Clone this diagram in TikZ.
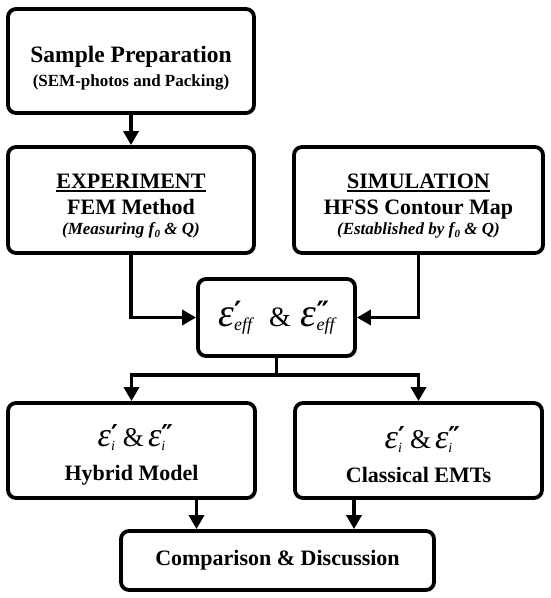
\documentclass[tikz,border=0pt]{standalone}
\usepackage{fontspec}
\setmainfont{Liberation Serif}
\newfontfamily\dv{DejaVu Sans}
\usetikzlibrary{arrows.meta}
\newcommand{\myul}[1]{\vtop{\hbox{#1}\kern1.5pt\hrule height 1.6pt}}
% #1 eps size, #2 prime glyph, #3 prime size, #4 prime raise, #5 sub text, #6 sub size, #7 sub lower
\newcommand{\epsq}[7]{{\fontsize{#1}{#1}\selectfont\mdseries\itshape ε}%
  \makebox[0pt][l]{\raisebox{#4}{\fontsize{#3}{#3}\selectfont\dv\bfseries #2}}%
  \raisebox{-#7}{\fontsize{#6}{#6}\selectfont\mdseries\itshape #5}}
\newcommand{\subz}{\raisebox{-3pt}{\fontsize{11}{11}\selectfont 0}}
\newcommand{\titlefont}{\bfseries\fontsize{22}{26}\selectfont}
\newcommand{\smallitfont}{\bfseries\itshape\fontsize{17}{20}\selectfont}
\begin{document}
\begin{tikzpicture}[x=1pt,y=-1pt,
  box/.style={draw, line width=3.8pt, rounded corners=8pt, align=center, inner sep=0pt},
  arr/.style={line width=3.8pt, -{Triangle[width=15pt,length=14pt]}},
  ln/.style={line width=3.8pt},
  ]
\useasboundingbox (0,0) rectangle (550,598);
\node[box, minimum width=246pt, minimum height=104pt, font=\bfseries\fontsize{23.5}{26}\selectfont] (prep) at (131,61)
  {\rule{0pt}{30pt}Sample Preparation\\[-2pt]
   {\bfseries\fontsize{17}{20}\selectfont (SEM-photos and Packing)}};
\node[box, minimum width=246pt, minimum height=106pt, font=\titlefont] (exp) at (131,200)
  {\rule{0pt}{27pt}\myul{EXPERIMENT}\\[0pt]
   FEM Method\\[-6pt]
   {\smallitfont (Measuring f\kern0.5pt\subz{} \& Q)}};
\node[box, minimum width=249pt, minimum height=106pt, font=\titlefont] (sim) at (418.5,200)
  {\rule{0pt}{27pt}\myul{SIMULATION}\\[0pt]
   HFSS Contour Map\\[-6pt]
   {\smallitfont (Established by f\kern0.5pt\subz{} \& Q)}};
\node[box, minimum width=157pt, minimum height=77pt] (eps) at (276.5,317.5)
  {\epsq{40}{′}{28}{5pt}{eff}{18}{4pt}%
   \hspace{17pt}{\fontsize{28}{28}\selectfont \&}\hspace{10pt}%
   \epsq{40}{″}{28}{5pt}{eff}{18}{4pt}};
\node[box, minimum width=247pt, minimum height=95pt, font=\titlefont] (hyb) at (131.5,450.5)
  {{\rule{0pt}{30pt}\epsq{34}{′}{26}{3pt}{i}{14}{4pt}%
   \hspace{8pt}{\mdseries\fontsize{27}{27}\selectfont \&}\hspace{4pt}%
   \epsq{34}{″}{26}{3pt}{i}{14}{4pt}}\\[8pt]
   Hybrid Model};
\node[box, minimum width=247pt, minimum height=95pt, font=\titlefont] (cls) at (418.5,450.5)
  {{\rule{0pt}{30pt}\epsq{34}{′}{26}{3pt}{i}{14}{4pt}%
   \hspace{8pt}{\mdseries\fontsize{27}{27}\selectfont \&}\hspace{4pt}%
   \epsq{34}{″}{26}{3pt}{i}{14}{4pt}}\\[8pt]
   Classical EMTs};
\node[box, minimum width=313pt, minimum height=59pt, font=\titlefont] (cmp) at (277.5,560.5)
  {Comparison \& Discussion};
\coordinate (split) at (276.5,375);
\draw[arr] (prep.south) -- (exp.north);
\draw[arr] (exp.south) |- (eps.west);
\draw[arr] (sim.south) |- (eps.east);
\draw[ln] (eps.south) -- (split);
\draw[arr] (split) -| (hyb.north);
\draw[arr] (split) -| (cls.north);
\draw[arr] ([xshift=65pt]hyb.south) -- ([xshift=65pt]hyb.south |- cmp.north);
\draw[arr] ([xshift=-64.5pt]cls.south) -- ([xshift=-64.5pt]cls.south |- cmp.north);
\end{tikzpicture}
\end{document}
